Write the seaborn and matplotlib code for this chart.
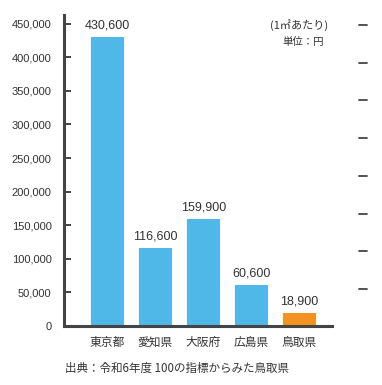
import matplotlib
matplotlib.use('Agg')
import matplotlib.pyplot as plt
import seaborn as sns
from matplotlib.lines import Line2D

prefectures = ['東京都', '愛知県', '大阪府', '広島県', '鳥取県']
prices = [430600, 116600, 159900, 60600, 18900]
price_labels = ['430,600', '116,600', '159,900', '60,600', '18,900']
bar_colors = ['#4FB8E9', '#4FB8E9', '#4FB8E9', '#4FB8E9', '#F39220']
yticks = [0, 50000, 100000, 150000, 200000, 250000, 300000, 350000, 400000, 450000]

sns.set_style('white')
plt.rcParams['font.family'] = ['Noto Sans CJK JP', 'DejaVu Sans']
text_color = '#333333'
axis_color = '#444444'
num_font = ['Liberation Sans']

fig = plt.figure(figsize=(3.82, 3.85), dpi=100)
ax = fig.add_axes([64 / 382, 1 - 326 / 385, (332 - 64) / 382, (326 - 15) / 385])

sns.barplot(x=prefectures, y=prices, hue=prefectures, palette=bar_colors,
            legend=False, width=0.69, linewidth=0, saturation=1, ax=ax)

# value labels above bars
for i, (v, lab) in enumerate(zip(prices, price_labels)):
    ax.text(i, v + 8000, lab, ha='center', va='bottom', fontsize=9,
            color=text_color, family=num_font)

ax.set_xlim(-0.906, 4.677)
ax.set_ylim(0, 463000)
ax.set_yticks(yticks)
ax.set_yticklabels([f'{t:,}' for t in yticks], family=num_font)
ax.tick_params(axis='y', length=0, labelsize=8, labelcolor=text_color, pad=9)
ax.tick_params(axis='x', length=0, labelsize=8.5, labelcolor=text_color, pad=7)
ax.set_xlabel('')
ax.set_ylabel('')

# inward tick marks on the y axis
ytrans = ax.get_yaxis_transform()
for t in yticks[1:]:
    ax.plot([0, 0.027], [t, t], transform=ytrans, color=axis_color,
            linewidth=1.4, solid_capstyle='butt', clip_on=False, zorder=3)

for side in ['top', 'right']:
    ax.spines[side].set_visible(False)
for side in ['left', 'bottom']:
    ax.spines[side].set_color(axis_color)
    ax.spines[side].set_linewidth(2.2)

# unit note
fig.text(328 / 382, 1 - 25 / 385, '(1㎡あたり)', ha='right', va='center',
         fontsize=8, color=text_color)
fig.text(324 / 382, 1 - 42 / 385, '単位：円', ha='right', va='center',
         fontsize=7.5, color=text_color)

# source
fig.text(65 / 382, 1 - 368 / 385, '出典：令和6年度 100の指標からみた鳥取県',
         ha='left', va='center', fontsize=8.3, color=text_color)

# stray tick marks at right edge
for y in [25, 63, 100, 138, 176, 214, 251, 289]:
    fig.add_artist(Line2D([359 / 382, 367 / 382], [1 - y / 385, 1 - y / 385],
                          color=axis_color, linewidth=1.3))

fig.savefig('out.png', dpi=100)
